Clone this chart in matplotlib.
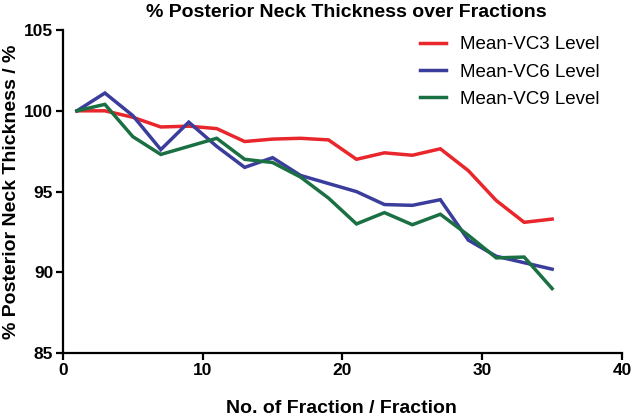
import numpy as np
import matplotlib
matplotlib.use("Agg")
import matplotlib.pyplot as plt

plt.rcParams['font.family'] = ['Liberation Sans', 'DejaVu Sans']

fractions = [1, 3, 5, 7, 9, 11, 13, 15, 17, 19, 21, 23, 25, 27, 29, 31, 33, 35]

vc3 = [100.0, 100.0, 99.6, 99.0, 99.05, 98.9, 98.1, 98.25, 98.3, 98.2,
       97.0, 97.4, 97.25, 97.65, 96.3, 94.45, 93.1, 93.3]
vc6 = [100.0, 101.1, 99.7, 97.6, 99.3, 97.8, 96.5, 97.1, 96.0, 95.5,
       95.0, 94.2, 94.15, 94.5, 92.0, 91.0, 90.6, 90.2]
vc9 = [100.0, 100.4, 98.4, 97.3, 97.8, 98.3, 97.0, 96.8, 95.9, 94.6,
       93.0, 93.7, 92.95, 93.6, 92.3, 90.9, 90.95, 89.0]

labels = ['Mean-VC3 Level', 'Mean-VC6 Level', 'Mean-VC9 Level']
colors = ['#e8262b', '#3a3d9c', '#1a7043']

W, H = 636, 417
fig = plt.figure(figsize=(W / 100, H / 100), dpi=100)
ax = fig.add_axes([0.099, 0.153, 0.879, 0.775])

for y, lab, c in zip([vc3, vc6, vc9], labels, colors):
    ax.plot(fractions, y, color=c, lw=2.5, label=lab, solid_joinstyle='miter')

ax.set_xlim(0, 40)
ax.set_ylim(85, 105)
ax.set_xticks([0, 10, 20, 30, 40])
ax.set_yticks([85, 90, 95, 100, 105])

for s in ['top', 'right']:
    ax.spines[s].set_visible(False)
for s in ['left', 'bottom']:
    ax.spines[s].set_linewidth(1.6)
ax.tick_params(direction='out', length=5, width=1.6, labelsize=12.5, pad=2)
for t in ax.get_xticklabels() + ax.get_yticklabels():
    t.set_fontweight('bold')

fig.text(346 / W, 1 - 4 / H, '% Posterior Neck Thickness over Fractions',
         fontsize=14, fontweight='bold', ha='center', va='top')
ax.set_xlabel('No. of Fraction / Fraction', fontsize=14, fontweight='bold', va='center')
ax.set_ylabel('% Posterior Neck Thickness / %', fontsize=14, fontweight='bold', va='center')
ax.xaxis.set_label_coords(0.499, (353 - 408) / 323)
ax.yaxis.set_label_coords((12 - 63) / 559, 0.50)

ax.legend(loc='upper left', bbox_to_anchor=(420 / W, 1 - 36 / H),
          bbox_transform=fig.transFigure, frameon=False, borderpad=0,
          borderaxespad=0, fontsize=13.5, handlelength=1.4,
          handletextpad=0.75, labelspacing=0.55)

fig.savefig('out.png', dpi=100)
